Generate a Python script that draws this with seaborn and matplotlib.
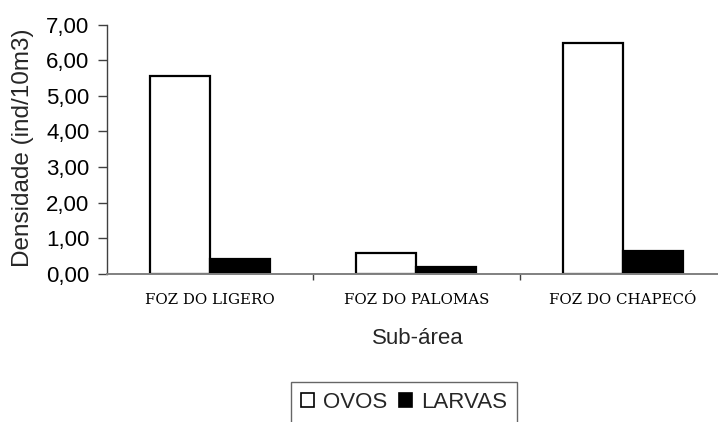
import matplotlib
matplotlib.use("Agg")
import matplotlib.pyplot as plt
from matplotlib.ticker import FuncFormatter
import pandas as pd
import seaborn as sns

# Density of eggs and larvae per sub-area
sub_areas = ["FOZ DO LIGERO", "FOZ DO PALOMAS", "FOZ DO CHAPECÓ"]
ovos = [5.54, 0.59, 6.48]
larvas = [0.42, 0.18, 0.65]
series = ["OVOS", "LARVAS"]
y_ticks = [0, 1, 2, 3, 4, 5, 6, 7]

df = pd.DataFrame({
    "Sub-área": sub_areas * 2,
    "Densidade": ovos + larvas,
    "Tipo": [series[0]] * len(sub_areas) + [series[1]] * len(sub_areas),
})

sns.set_theme(style="white")
plt.rcParams["font.family"] = ["Liberation Sans", "DejaVu Sans"]

W, H = 718, 422
fig = plt.figure(figsize=(W / 100, H / 100), dpi=100)

# plot area in pixels; the category axis runs on past the right edge
left_px, right_px, top_px, bottom_px = 106.7, 718, 24.5, 273.7
cat_px = 206.5
ax = fig.add_axes([left_px / W, (H - bottom_px) / H,
                   (right_px - left_px) / W, (bottom_px - top_px) / H])

sns.barplot(data=df, x="Sub-área", y="Densidade", hue="Tipo",
            order=sub_areas, hue_order=series,
            palette=["white", "black"], saturation=1,
            edgecolor="black", linewidth=1.6, width=0.581,
            errorbar=None, ax=ax, legend=True)

ax.set_xlim(-0.5, -0.5 + (right_px - left_px) / cat_px)
ax.set_ylim(0, 7)
ax.set_yticks(y_ticks)
ax.yaxis.set_major_formatter(FuncFormatter(lambda v, p: f"{v:.2f}".replace(".", ",")))

for s in ["top", "right"]:
    ax.spines[s].set_visible(False)
ax.spines["left"].set_color("#404040")
ax.spines["left"].set_linewidth(1.0)
ax.spines["bottom"].set_color("#808080")
ax.spines["bottom"].set_linewidth(1.4)

ax.tick_params(axis="y", direction="out", length=6.5, width=1.0, color="#404040",
               pad=5.8, labelsize=16, labelcolor="black", left=True)
ax.set_xticks(range(len(sub_areas)))
ax.set_xticklabels(sub_areas, family=["DejaVu Serif"], fontsize=10.8)
ax.tick_params(axis="x", which="major", length=0, pad=14, labelcolor="black")
ax.set_xticks([0.5, 1.5], minor=True)
ax.tick_params(axis="x", which="minor", direction="out", length=4.5, width=1.0,
               color="#404040", bottom=True)

ax.set_ylabel("Densidade (ind/10m3)", fontsize=17.5, va="center")
ax.yaxis.set_label_coords(23 / W, (H - 148) / H, transform=fig.transFigure)
ax.set_xlabel("Sub-área", fontsize=16, va="center")
ax.xaxis.set_label_coords(418 / W, (H - 338) / H, transform=fig.transFigure)

ax.get_legend().remove()
leg = fig.legend(*ax.get_legend_handles_labels(), loc="upper left",
                 bbox_to_anchor=(291 / W, (H - 382.3) / H),
                 ncol=2, fontsize=16, frameon=True, fancybox=False,
                 handlelength=0.6, handleheight=0.6, handletextpad=0.42,
                 columnspacing=0.5, borderpad=0.44, borderaxespad=0)
leg.get_frame().set_edgecolor("#404040")
leg.get_frame().set_linewidth(1.0)
for h in leg.legend_handles:
    h.set_linewidth(1.2)

fig.savefig("out.png", dpi=100)
